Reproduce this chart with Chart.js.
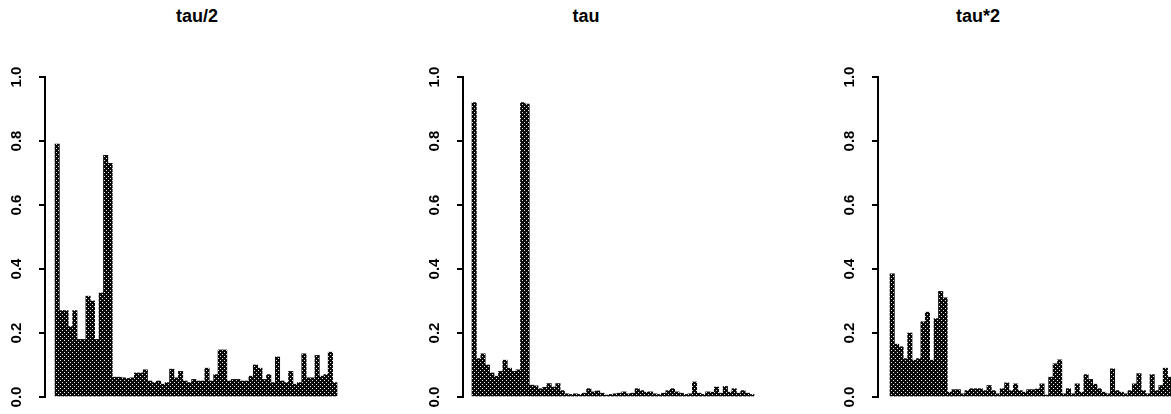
<!DOCTYPE html>
<html>
<head>
<meta charset="utf-8">
<script src="https://cdn.jsdelivr.net/npm/chart.js@4.4.1/dist/chart.umd.min.js"></script>
<style>
    body { margin: 0; width: 1171px; height: 414px; overflow: hidden; background: #fff; position: relative; }
    canvas { position: absolute; top: 0; }
    .title {
        position: absolute; top: 7px; transform: translateX(-50%);
        font: bold 18px "Liberation Sans", Arial, sans-serif; line-height: 18px; color: #000;
        white-space: nowrap;
    }
</style>
</head>
<body>
<div class="title" style="left:197px">tau/2</div>
<div class="title" style="left:586px">tau</div>
<div class="title" style="left:978px">tau*2</div>
<canvas id="chartHalf" width="390" height="414" style="left:0px"></canvas>
<canvas id="chartTau" width="390" height="414" style="left:418px"></canvas>
<canvas id="chartDouble" width="390" height="414" style="left:833px"></canvas>
<script>
// model index on the x axis (64 models, no tick labels drawn)
const modelIds = Array.from({ length: 64 }, (_, i) => i + 1);

const tickValues = [0, 0.2, 0.4, 0.6, 0.8, 1.0];
const tickLabels = ['0.0', '0.2', '0.4', '0.6', '0.8', '1.0'];

const tauHalf = [
    0.79, 0.27, 0.27, 0.22, 0.27, 0.18, 0.18, 0.315, 0.30, 0.18, 0.325, 0.755, 0.73,
    0.062, 0.062, 0.06, 0.058, 0.06, 0.075, 0.075, 0.085, 0.05, 0.045,
    0.05, 0.04, 0.045, 0.087, 0.06, 0.08, 0.05, 0.045, 0.055, 0.05,
    0.05, 0.09, 0.05, 0.07, 0.147, 0.147, 0.05, 0.055, 0.055, 0.05,
    0.05, 0.065, 0.10, 0.09, 0.055, 0.07, 0.045, 0.125, 0.05, 0.045,
    0.08, 0.04, 0.045, 0.135, 0.06, 0.06, 0.13, 0.065, 0.07, 0.14,
    0.045
];

const tau = [
    0.92, 0.12, 0.135, 0.10, 0.075, 0.065, 0.08, 0.115, 0.09, 0.08, 0.085, 0.92, 0.915,
    0.037, 0.035, 0.026, 0.03, 0.042, 0.031, 0.042, 0.02, 0.01, 0.008,
    0.01, 0.008, 0.012, 0.026, 0.016, 0.019, 0.012, 0.006, 0.008, 0.01,
    0.012, 0.016, 0.01, 0.012, 0.026, 0.02, 0.015, 0.016, 0.01, 0.008,
    0.012, 0.02, 0.026, 0.016, 0.012, 0.008, 0.01, 0.047, 0.012, 0.008,
    0.016, 0.015, 0.031, 0.012, 0.033, 0.015, 0.026, 0.012, 0.02, 0.012,
    0.008
];

const tauDouble = [
    0.385, 0.165, 0.157, 0.12, 0.20, 0.115, 0.12, 0.235, 0.265, 0.115, 0.245, 0.33, 0.31,
    0.015, 0.023, 0.023, 0.01, 0.02, 0.026, 0.026, 0.026, 0.02, 0.036,
    0.02, 0.01, 0.026, 0.044, 0.02, 0.041, 0.02, 0.015, 0.023, 0.023,
    0.025, 0.041, 0.006, 0.062, 0.104, 0.116, 0.01, 0.026, 0.01, 0.041,
    0.015, 0.07, 0.055, 0.04, 0.026, 0.015, 0.01, 0.088, 0.02, 0.015,
    0.01, 0.02, 0.041, 0.073, 0.02, 0.01, 0.07, 0.02, 0.036, 0.09,
    0.062
];

// layout (pixels)
const axisLeft = 45;
const plotWidth = 301;
const barsWidth = 282;

const makeHatch = () => {
    const c = document.createElement('canvas');
    c.width = 4;
    c.height = 4;
    const g = c.getContext('2d');
    g.fillStyle = '#0a0a0a';
    g.fillRect(0, 0, 4, 4);
    g.fillStyle = '#e8e8e8';
    g.fillRect(0, 0, 1, 1);
    g.fillRect(2, 2, 1, 1);
    return g.createPattern(c, 'repeat');
};

const yLabelsPlugin = {
    id: 'yLabels',
    afterDraw(chart) {
        const ctx = chart.ctx;
        const yScale = chart.scales.y;
        ctx.save();
        ctx.font = 'bold 15px "Liberation Sans", Arial, sans-serif';
        ctx.fillStyle = '#000';
        ctx.textAlign = 'center';
        ctx.textBaseline = 'middle';
        tickValues.forEach((v, i) => {
            ctx.save();
            ctx.translate(17, yScale.getPixelForValue(v));
            ctx.rotate(-Math.PI / 2);
            ctx.fillText(tickLabels[i], 0, 0);
            ctx.restore();
        });
        ctx.restore();
    }
};

function renderPanel(canvasId, values, gap) {
    const ctx = document.getElementById(canvasId).getContext('2d');
    const perBar = barsWidth / modelIds.length;
    const xMin = 0.5 - gap / perBar;
    const xMax = xMin + plotWidth / perBar;

    new Chart(ctx, {
        type: 'bar',
        data: {
            datasets: [{
                data: values.map((v, i) => ({ x: modelIds[i], y: v })),
                backgroundColor: makeHatch(),
                borderWidth: 0,
                barPercentage: 1,
                categoryPercentage: 1,
            }],
        },
        options: {
            responsive: false,
            animation: false,
            devicePixelRatio: 1,
            layout: {
                padding: { top: 77, bottom: 17, left: 0, right: 390 - axisLeft - plotWidth },
            },
            plugins: {
                legend: { display: false },
                tooltip: { enabled: false },
            },
            scales: {
                x: {
                    type: 'linear',
                    display: false,
                    min: xMin,
                    max: xMax,
                    offset: false,
                },
                y: {
                    min: 0,
                    max: 1,
                    ticks: { stepSize: 0.2, display: false },
                    grid: {
                        drawOnChartArea: false,
                        drawTicks: true,
                        tickLength: 6,
                        color: '#000',
                        lineWidth: 2,
                    },
                    border: { display: true, color: '#000', width: 2 },
                    afterFit: (scale) => { scale.width = axisLeft; },
                },
            },
        },
        plugins: [yLabelsPlugin],
    });
}

renderPanel('chartHalf', tauHalf, 10);
renderPanel('chartTau', tau, 9);
renderPanel('chartDouble', tauDouble, 12);
</script>
</body>
</html>
